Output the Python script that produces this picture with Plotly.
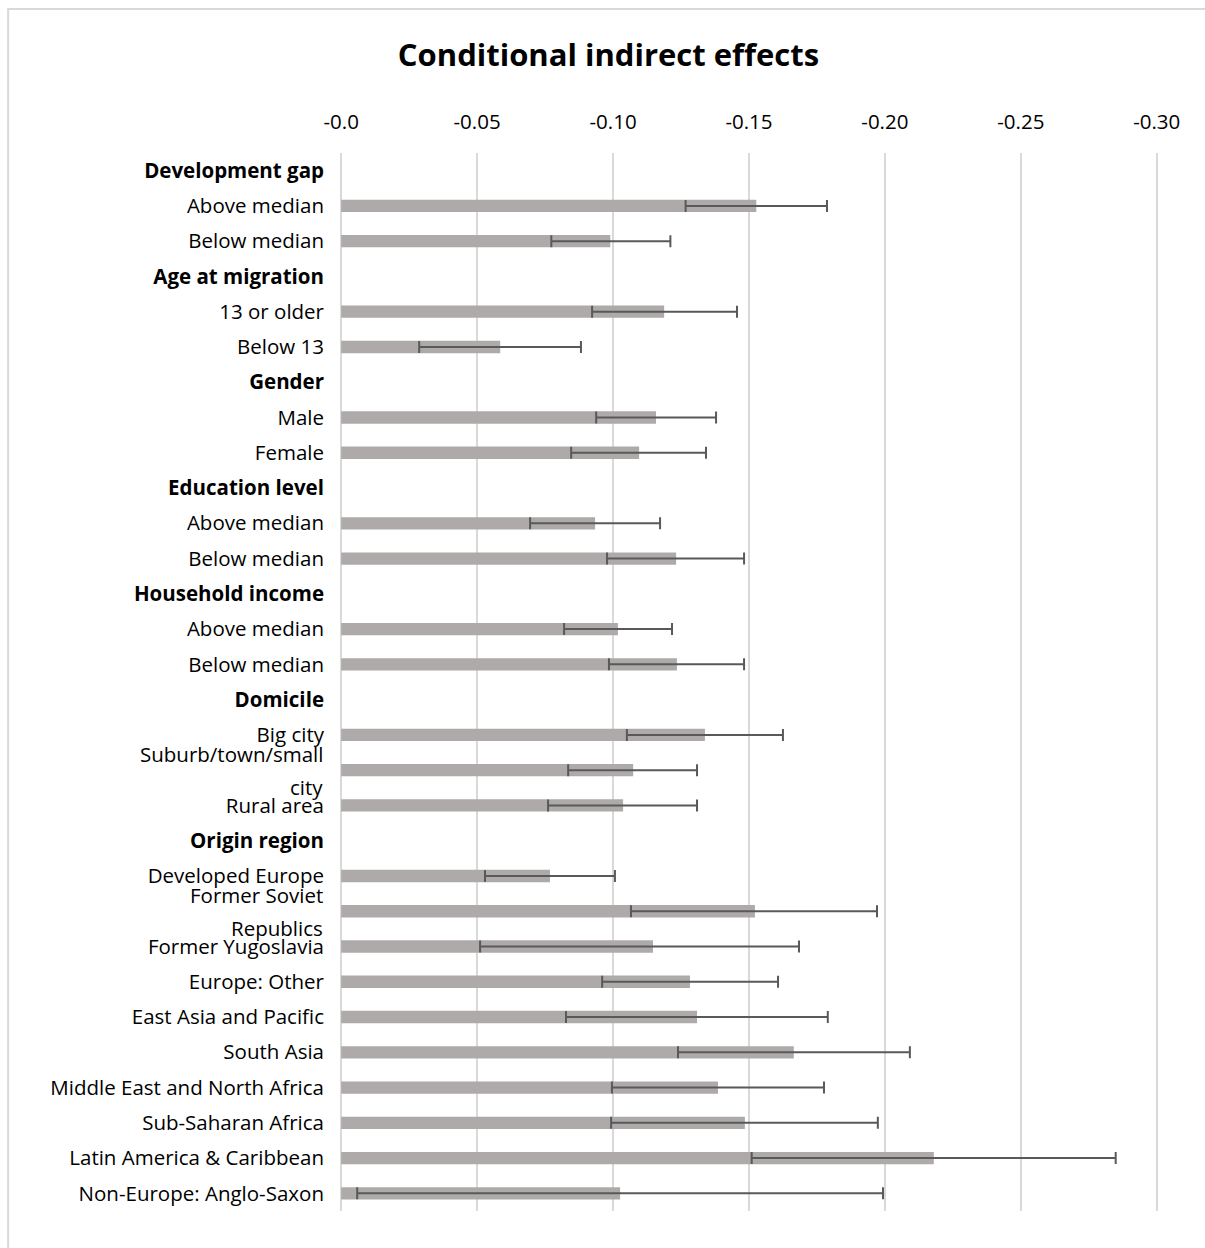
import plotly.graph_objects as go

# Row labels, top to bottom; group headings carry no estimate
row_labels = [
    "Development gap", "Above median", "Below median",
    "Age at migration", "13 or older", "Below 13",
    "Gender", "Male", "Female",
    "Education level", "Above median", "Below median",
    "Household income", "Above median", "Below median",
    "Domicile", "Big city", "Suburb/town/small city", "Rural area",
    "Origin region", "Developed Europe", "Former Soviet Republics",
    "Former Yugoslavia", "Europe: Other", "East Asia and Pacific",
    "South Asia", "Middle East and North Africa", "Sub-Saharan Africa",
    "Latin America & Caribbean", "Non-Europe: Anglo-Saxon",
]
is_header = [
    True, False, False,
    True, False, False,
    True, False, False,
    True, False, False,
    True, False, False,
    True, False, False, False,
    True, False, False, False, False, False, False, False, False, False, False,
]
# Labels that wrap onto two lines
wrapped = {
    "Suburb/town/small city": ("Suburb/town/small", "city"),
    "Former Soviet Republics": ("Former Soviet", "Republics"),
}

# Conditional indirect effect and its confidence bounds
effect = [
    None, -0.1527, -0.0990,
    None, -0.1188, -0.0585,
    None, -0.1158, -0.1096,
    None, -0.0934, -0.1232,
    None, -0.1018, -0.1235,
    None, -0.1338, -0.1074, -0.1037,
    None, -0.0768, -0.1522, -0.1147, -0.1283, -0.1309, -0.1665,
    -0.1386, -0.1485, -0.2180, -0.1026,
]
ci_upper = [  # bound closer to zero
    None, -0.1267, -0.0773,
    None, -0.0923, -0.0287,
    None, -0.0938, -0.0846,
    None, -0.0695, -0.0978,
    None, -0.0820, -0.0985,
    None, -0.1051, -0.0835, -0.0761,
    None, -0.0529, -0.1066, -0.0511, -0.0960, -0.0827, -0.1239,
    -0.0996, -0.0993, -0.1510, -0.0059,
]
ci_lower = [  # bound further from zero
    None, -0.1787, -0.1211,
    None, -0.1456, -0.0882,
    None, -0.1379, -0.1342,
    None, -0.1173, -0.1482,
    None, -0.1217, -0.1482,
    None, -0.1625, -0.1309, -0.1309,
    None, -0.1007, -0.1971, -0.1684, -0.1607, -0.1790, -0.2092,
    -0.1776, -0.1974, -0.2849, -0.1993,
]

tick_values = [0.0, -0.05, -0.10, -0.15, -0.20, -0.25, -0.30]
tick_labels = ["-0.0", "-0.05", "-0.10", "-0.15", "-0.20", "-0.25", "-0.30"]

FONT = "Open Sans"
LABEL_SIZE = 20.5
LABEL_GAP = 14
positions = list(range(len(row_labels)))

err_plus = [None if e is None else u - e for e, u in zip(effect, ci_upper)]
err_minus = [None if e is None else e - l for e, l in zip(effect, ci_lower)]

ticktext = []
for lab, hdr in zip(row_labels, is_header):
    if lab in wrapped:
        ticktext.append("")
    elif hdr:
        ticktext.append(f"<b>{lab}</b>")
    else:
        ticktext.append(lab)

fig = go.Figure(
    go.Bar(
        x=effect,
        y=positions,
        orientation="h",
        width=0.35,
        marker=dict(color="#AEAAAA", line=dict(width=0)),
        error_x=dict(
            type="data",
            symmetric=False,
            array=err_plus,
            arrayminus=err_minus,
            color="#595959",
            thickness=2,
            width=6,
        ),
        hoverinfo="skip",
    )
)

# Two-line labels, split above and below their row
annotations = []
for pos, lab in zip(positions, row_labels):
    if lab in wrapped:
        top, bottom = wrapped[lab]
        for txt, shift in ((top, 16), (bottom, -17)):
            annotations.append(dict(
                x=0, xref="x", xanchor="right", xshift=-16,
                y=pos, yref="y", yshift=shift, yanchor="middle",
                text=txt, showarrow=False,
                font=dict(family=FONT, size=LABEL_SIZE, color="#000000"),
            ))

fig.update_layout(
    width=1205,
    height=1248,
    paper_bgcolor="white",
    plot_bgcolor="white",
    margin=dict(l=339, r=45, t=153, b=37),
    showlegend=False,
    title=dict(
        text="<b>Conditional indirect effects</b>",
        x=0.505, xref="container", xanchor="center",
        y=1 - 55 / 1248, yref="container", yanchor="middle",
        font=dict(family=FONT, size=31, color="#000000"),
    ),
    xaxis=dict(
        range=[0.0008, -0.3012],
        side="top",
        tickvals=tick_values,
        ticktext=tick_labels,
        showgrid=True,
        gridcolor="#D9D9D9",
        gridwidth=2,
        zeroline=False,
        showline=False,
        ticks="",
        ticklabelstandoff=19,
        tickfont=dict(family=FONT, size=LABEL_SIZE, color="#000000"),
    ),
    yaxis=dict(
        range=[len(row_labels) - 0.5, -0.5],
        tickvals=positions,
        ticktext=ticktext,
        showgrid=False,
        zeroline=False,
        showline=False,
        ticks="",
        ticklabelstandoff=LABEL_GAP,
        tickfont=dict(family=FONT, size=LABEL_SIZE, color="#000000"),
    ),
    annotations=annotations,
    shapes=[dict(
        type="rect", xref="paper", yref="paper",
        x0=-0.403, x1=1.07, y0=-0.05, y1=1.1361,
        line=dict(color="#D9D9D9", width=2), fillcolor="rgba(0,0,0,0)",
        layer="below",
    )],
)

fig.write_html("out.html")
